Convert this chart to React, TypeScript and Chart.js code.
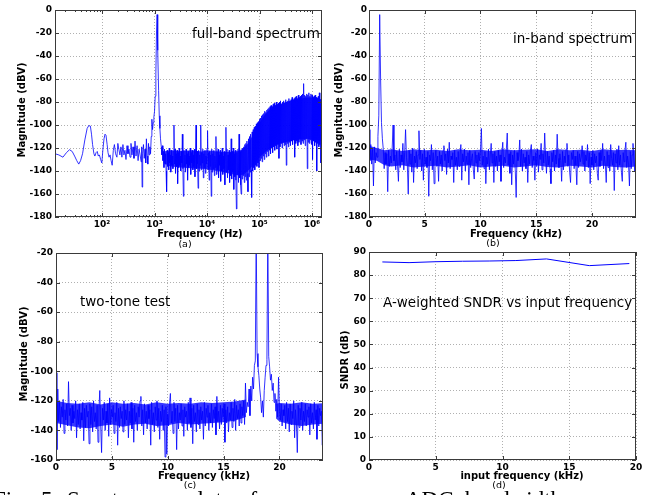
import React, { useEffect, useRef } from 'react';
import { Chart, registerables } from 'chart.js';

Chart.register(...registerables);

// ---------------- DATA ----------------
// (a) full-band spectrum: low-frequency part as (Hz, dBV) pairs
const FULL_LOW_HZ = [12.7, 15, 18, 21, 24, 27, 30, 33, 36, 39, 42.5, 47, 52, 56, 60, 63, 66, 70, 73, 77, 81, 85, 89, 94, 99, 104, 109, 114, 119, 125, 130, 136, 142, 149, 156, 164, 172, 181, 192, 200, 209, 219, 229, 239, 250, 261, 273, 286, 299, 312, 326, 341, 356, 372, 389, 406, 425, 444, 465, 486, 508, 531, 555, 570, 580, 595, 615, 637, 660, 680, 700, 722, 745, 767, 790, 815, 840, 865, 890, 917, 945, 972, 1000, 1030, 1060, 1090, 1120, 1150, 1195, 1230, 1265, 1300, 1345, 1380];
const FULL_LOW_DB = [-125, -126, -128, -124, -121.5, -123, -127, -131, -134, -131, -125, -113, -103, -100.5, -101, -108, -117, -125, -127, -124, -123, -127, -126, -130, -133, -121, -112, -108, -109, -117, -124, -128, -126, -131, -135, -122, -117, -125, -128, -116, -121, -126, -119, -128, -117, -126, -122, -130, -118, -125, -121, -128, -116, -126, -119, -129, -114, -127, -118, -131, -121, -126, -132, -119, -154, -125, -117, -129, -121, -133, -112, -127, -134, -116, -126, -119, -125, -110, -95, -104, -98, -93, -88, -75, -55, -20, -4, -35, -70, -92, -103, -112, -119, -126];
// (a) dense part: bins on a log grid starting at 10^3.15 Hz, 0.01 decade apart
const FULL_HIGH_LOG_START = 3.15;
const FULL_HIGH_LOG_STEP = 0.01;
const FULL_HIGH_DB = [
  -118, -131, -123, -137, -121, -134, -125, -140, -158, -122,
  -136, -124, -139, -120, -133, -126, -141, -122, -135, -127,
  -138, -123, -100, -134, -121, -142, -125, -136, -122, -151,
  -124, -137, -120, -135, -127, -140, -123, -133, -108, -138,
  -162, -122, -136, -126, -141, -121, -134, -125, -148, -123,
  -137, -127, -135, -120, -143, -124, -133, -122, -139, -126,
  -136, -121, -145, -125, -100, -138, -123, -134, -155, -122,
  -140, -126, -135, -100, -139, -124, -133, -121, -146, -125,
  -137, -122, -142, -127, -134, -120, -105, -139, -124, -148,
  -123, -136, -126, -162, -121, -141, -125, -138, -122, -144,
  -127, -137, -110, -143, -123, -139, -121, -146, -126, -135,
  -122, -149, -124, -140, -120, -143, -127, -138, -123, -152,
  -125, -102, -141, -121, -146, -126, -139, -122, -150, -124,
  -144, -112, -147, -123, -141, -120, -156, -125, -145, -122,
  -148, -173, -124, -143, -121, -150, -108, -146, -123, -152,
  -160, -122, -147, -120, -144, -119, -150, -117, -145, -116,
  -148, -114, -142, -158, -112, -145, -110, -141, -108, -139,
  -163, -106, -140, -104, -137, -102, -139, -101, -135, -99,
  -136, -98, -133, -97, -137, -95, -131, -94, -129, -92,
  -132, -91, -127, -90, -130, -88, -125, -89, -128, -87,
  -123, -86, -127, -85, -122, -84, -125, -83, -120, -84,
  -124, -82, -119, -81, -122, -83, -118, -80, -121, -82,
  -117, -81, -129, -80, -119, -79, -116, -82, -120, -80,
  -115, -79, -118, -81, -117, -78, -135, -80, -116, -79,
  -119, -77, -115, -79, -118, -78, -114, -76, -117, -78,
  -113, -77, -128, -76, -116, -75, -114, -77, -118, -74,
  -115, -76, -112, -75, -117, -74, -114, -73, -116, -64,
  -113, -74, -118, -75, -112, -73, -138, -74, -115, -72,
  -116, -75, -113, -73, -117, -74, -130, -76, -114, -75,
  -118, -74, -115, -76, -140, -77, -116, -75, -119, -72,
  -117, -78, -133, -77, -120,
];
// (a) dense core of the noise band (where the FFT bins overlap into a solid band)
const FULL_CORE_HZ = [1480, 2000, 3160, 5000, 7940, 10000, 15800, 25100, 31600, 39800, 50100, 63100, 79400, 100000, 126000, 158000, 200000, 251000, 316000, 398000, 501000, 631000, 794000, 1000000, 1260000, 1550000];
const FULL_CORE_HI = [-123, -122, -122.5, -122, -123, -122, -123, -123.5, -123, -122.5, -120, -115, -106, -98, -91, -86, -83, -81.5, -80, -79, -78, -77, -76, -76, -76, -78];
const FULL_CORE_LO = [-133, -136, -137, -137.5, -138, -138.5, -140, -142, -143, -144, -143, -139, -134, -128, -124, -120, -117, -116, -115, -114, -113, -112.5, -112, -112.5, -113, -114];

// (b) in-band spectrum: FFT bins 0.08 kHz apart from 0 kHz
const IN_BAND_STEP_KHZ = 0.08;
const IN_BAND_DB = [
  -104, -131, -117, -134, -121, -153, -119, -133, -124, -128, -110, -92, -4, -60, -98, -112, -121, -138, -124, -134,
  -125, -158, -122, -136, -127, -133, -120, -100, -131, -126, -139, -123, -135, -149, -121, -137, -126, -132, -116, -139,
  -124, -104, -128, -135, -160, -122, -134, -125, -141, -120, -150, -127, -133, -123, -138, -126, -105, -130, -122, -140,
  -125, -148, -121, -134, -128, -137, -123, -162, -126, -131, -117, -139, -124, -151, -129, -122, -136, -127, -149, -123,
  -134, -126, -140, -122, -118, -131, -125, -143, -121, -133, -115, -138, -127, -130, -124, -150, -122, -135, -128, -139,
  -123, -136, -126, -117, -148, -125, -132, -121, -140, -127, -134, -124, -152, -122, -137, -129, -125, -139, -147, -123,
  -133, -126, -141, -124, -131, -122, -103, -135, -127, -138, -123, -151, -128, -134, -121, -139, -126, -116, -133, -125,
  -150, -123, -136, -127, -140, -122, -132, -126, -149, -124, -115, -137, -128, -133, -121, -107, -135, -125, -142, -123,
  -152, -126, -134, -122, -139, -163, -124, -131, -127, -113, -136, -121, -140, -125, -133, -128, -138, -123, -150, -126,
  -134, -122, -117, -137, -127, -131, -148, -124, -136, -121, -141, -126, -130, -116, -139, -125, -133, -107, -128, -142,
  -123, -135, -127, -138, -151, -124, -132, -122, -140, -126, -134, -108, -129, -137, -125, -131, -149, -123, -139, -127,
  -133, -121, -116, -136, -126, -141, -150, -124, -130, -122, -138, -127, -135, -152, -123, -137, -125, -132, -128, -118,
  -134, -123, -140, -126, -131, -117, -137, -124, -151, -128, -135, -122, -139, -125, -133, -127, -142, -148, -124, -136,
  -122, -131, -116, -138, -127, -134, -150, -123, -137, -126, -140, -117, -129, -135, -124, -157, -125, -133, -121, -139,
  -118, -135, -126, -141, -149, -124, -132, -122, -115, -137, -127, -134, -153, -123, -138, -126, -116, -131, -140, -124,
  -133,
];
const IN_BAND_CORE_KHZ = [0, 0.7, 1.4, 2, 3, 4, 5, 6, 7, 8, 9, 10, 11, 12, 13, 14, 15, 16, 17, 18, 19, 20, 21, 22, 23, 24];
const IN_BAND_CORE_HI = [-118, -120, -122, -121, -122.5, -121, -122, -121.5, -122.5, -121, -122, -121.5, -122.5, -121, -122, -121.5, -121, -122.5, -121, -122, -121.5, -122.5, -121, -122, -121.5, -122];
const IN_BAND_CORE_LO = [-130, -131, -135, -136, -135, -137, -136, -135.5, -137, -136, -135, -137, -136, -135.5, -137, -136, -135, -136.5, -137, -135.5, -136, -137, -135.5, -136.5, -137, -136];

// (c) two-tone test: FFT bins 0.08 kHz apart from 0 kHz
const TWO_TONE_STEP_KHZ = 0.08;
const TWO_TONE_DB = [
  -101, -153, -112, -134, -121, -138, -124, -131, -119, -142, -126, -133, -122, -137, -107, -130, -125, -140, -123, -135,
  -127, -132, -120, -145, -126, -136, -122, -139, -128, -133, -121, -147, -125, -138, -123, -131, -127, -149, -122, -136,
  -124, -141, -120, -134, -128, -139, -123, -148, -126, -113, -137, -155, -125, -133, -121, -140, -127, -135, -122, -144,
  -118, -136, -126, -131, -123, -142, -128, -134, -121, -150, -125, -138, -124, -132, -127, -141, -120, -136, -126, -133,
  -122, -145, -127, -135, -121, -139, -125, -148, -123, -134, -128, -140, -124, -131, -120, -117, -137, -126, -143, -122,
  -135, -127, -139, -123, -132, -126, -150, -121, -136, -128, -141, -124, -133, -120, -138, -125, -146, -127, -134, -123,
  -140, -126, -158, -124, -156, -129, -137, -122, -115, -135, -127, -142, -121, -134, -125, -153, -123, -139, -128, -133,
  -122, -137, -126, -144, -124, -131, -127, -140, -121, -135, -118, -138, -125, -149, -123, -134, -128, -141, -122, -136,
  -126, -139, -124, -133, -127, -146, -121, -137, -125, -131, -123, -140, -128, -135, -122, -138, -126, -132, -124, -143,
  -117, -134, -127, -139, -123, -136, -125, -131, -122, -148, -126, -135, -124, -141, -128, -133, -121, -138, -125, -134,
  -119, -140, -123, -132, -126, -137, -122, -135, -124, -130, -120, -136, -108, -128, -121, -124, -112, -130, -110, -120,
  -104, -112, -96, -93, -5, -88, -97, -103, -112, -118, -128, -120, -131, -113, -104, -96, -92, -5, -90, -97,
  -106, -102, -113, -108, -121, -115, -127, -119, -131, -104, -124, -133, -122, -137, -126, -130, -123, -139, -121, -134,
  -125, -141, -122, -136, -127, -132, -120, -145, -126, -135, -155, -123, -138, -125, -133, -121, -140, -127, -134, -122,
  -137, -126, -131, -124, -143, -122, -135, -128, -139, -121, -133, -126, -146, -123, -137, -125, -130, -127, -150, -124,
  -136,
];
const TWO_TONE_CORE_L_KHZ = [0, 1, 2, 3, 4, 5, 6, 7, 8, 9, 10, 11, 12, 13, 14, 15, 16, 17];
const TWO_TONE_CORE_L_HI = [-120, -121.5, -122, -121, -122.5, -121, -122, -121.5, -122.5, -121, -122, -121.5, -122, -121, -121.5, -121, -120.5, -119];
const TWO_TONE_CORE_L_LO = [-135, -136.5, -138, -138.5, -137, -136, -137.5, -136, -135.5, -137, -136.5, -135, -136, -135.5, -135, -134.5, -133.5, -131];
const TWO_TONE_CORE_R_KHZ = [19.7, 20, 21, 22, 23, 24];
const TWO_TONE_CORE_R_HI = [-122, -121.5, -122, -121, -122, -121.5];
const TWO_TONE_CORE_R_LO = [-132, -134, -136, -137, -136, -135.5];

// (d) A-weighted SNDR vs input frequency
const SNDR_FREQ_KHZ = [1, 3, 5, 7, 9, 11, 13.3, 16.5, 19.5];
const SNDR_DB = [85.7, 85.4, 85.8, 86.0, 86.1, 86.3, 87.0, 84.1, 85.0];

// tick values / labels
const LOG_X_TICKS = [100, 1000, 10000, 100000, 1000000];
const LOG_X_LABELS = ['10\u00b2', '10\u00b3', '10\u2074', '10\u2075', '10\u2076'];
const KHZ_TICKS = [0, 5, 10, 15, 20];
const MAG_TICKS_A = [-180, -160, -140, -120, -100, -80, -60, -40, -20, 0];
const MAG_TICKS_C = [-160, -140, -120, -100, -80, -60, -40, -20];
const SNDR_TICKS = [0, 10, 20, 30, 40, 50, 60, 70, 80, 90];

// ---------------- STYLE ----------------
const FONT = "'DejaVu Sans', 'Liberation Sans', sans-serif";
const BLUE = '#0000ff';
const CORE_FILL = 'rgba(0, 0, 255, 0.78)';
const FRAME_COLOR = '#3a3a3a';
const GRID_COLOR = '#b0b0b0';

const framePlugin = {
  id: 'frame',
  afterDatasetsDraw(chart: any, _args: any, opts: any) {
    const { ctx, chartArea: a, scales } = chart;
    const xs = scales.x;
    const ys = scales.y;
    const al = (p: number) => Math.round(p) + 0.5;
    ctx.save();
    ctx.strokeStyle = FRAME_COLOR;
    ctx.lineWidth = 1;
    ctx.beginPath();
    xs.ticks.forEach((t: any) => {
      const px = al(xs.getPixelForValue(t.value));
      ctx.moveTo(px, a.bottom);
      ctx.lineTo(px, a.bottom - 4);
      ctx.moveTo(px, a.top);
      ctx.lineTo(px, a.top + 4);
    });
    (opts.minorX || []).forEach((v: number) => {
      const px = al(xs.getPixelForValue(v));
      if (px <= a.left || px >= a.right) return;
      ctx.moveTo(px, a.bottom);
      ctx.lineTo(px, a.bottom - 2);
      ctx.moveTo(px, a.top);
      ctx.lineTo(px, a.top + 2);
    });
    ys.ticks.forEach((t: any) => {
      const py = al(ys.getPixelForValue(t.value));
      ctx.moveTo(a.left, py);
      ctx.lineTo(a.left + 4, py);
      ctx.moveTo(a.right, py);
      ctx.lineTo(a.right - 4, py);
    });
    ctx.stroke();
    ctx.strokeRect(a.left + 0.5, a.top + 0.5, a.right - a.left - 1, a.bottom - a.top - 1);
    ctx.restore();
  },
};

type Box = { left: number; top: number; width: number; height: number };
type Area = { left: number; top: number; right: number; bottom: number };
type Pt = { x: number; y: number };

interface PanelSpec {
  canvas: Box;
  area: Area;
  line: Pt[];
  lineWidth: number;
  cores: { hi: Pt[]; lo: Pt[] }[];
  xType: 'linear' | 'logarithmic';
  xMin: number;
  xMax: number;
  xTicks: number[];
  xLabels: string[];
  yMin: number;
  yMax: number;
  yTicks: number[];
  yGap: number;
  minorX?: number[];
}

function buildDatasets(spec: PanelSpec) {
  const ds: any[] = [
    { data: spec.line, borderColor: BLUE, borderWidth: spec.lineWidth, pointRadius: 0, fill: false, tension: 0 },
  ];
  spec.cores.forEach((core) => {
    ds.push({
      data: core.hi,
      borderColor: 'rgba(0,0,0,0)',
      borderWidth: 0.1,
      backgroundColor: CORE_FILL,
      pointRadius: 0,
      fill: '+1',
      tension: 0,
    });
    ds.push({
      data: core.lo,
      borderColor: 'rgba(0,0,0,0)',
      borderWidth: 0.1,
      pointRadius: 0,
      fill: false,
      tension: 0,
    });
  });
  return ds;
}

function ChartPanel({ spec }: { spec: PanelSpec }) {
  const ref = useRef<HTMLCanvasElement>(null);
  const c = spec.canvas;
  const a = spec.area;
  useEffect(() => {
    const tickFont = { family: FONT, size: 9, weight: 'bold' as const };
    const chart = new Chart(ref.current as HTMLCanvasElement, {
      type: 'line',
      data: { datasets: buildDatasets(spec) },
      options: {
        responsive: false,
        animation: false,
        devicePixelRatio: 1,
        layout: { padding: { left: 0, bottom: 0, top: a.top - c.top, right: c.left + c.width - a.right } },
        plugins: {
          legend: { display: false },
          tooltip: { enabled: false },
          frame: { minorX: spec.minorX || [] },
        } as any,
        scales: {
          x: {
            type: spec.xType,
            min: spec.xMin,
            max: spec.xMax,
            afterBuildTicks: (s: any) => {
              s.ticks = spec.xTicks.map((v) => ({ value: v }));
            },
            afterFit: (s: any) => {
              s.height = c.top + c.height - a.bottom;
            },
            ticks: {
              autoSkip: false,
              maxRotation: 0,
              padding: 2,
              color: '#000',
              font: tickFont,
              callback: (_v: any, i: number) => spec.xLabels[i],
            },
            grid: { color: GRID_COLOR, lineWidth: 1, drawTicks: false },
            border: { display: false, dash: [1, 2] },
          } as any,
          y: {
            type: 'linear',
            min: spec.yMin,
            max: spec.yMax,
            afterBuildTicks: (s: any) => {
              s.ticks = spec.yTicks.map((v) => ({ value: v }));
            },
            afterFit: (s: any) => {
              s.width = a.left - c.left;
            },
            ticks: {
              autoSkip: false,
              padding: spec.yGap,
              color: '#000',
              font: tickFont,
              callback: (v: any) => String(v),
            },
            grid: { color: GRID_COLOR, lineWidth: 1, drawTicks: false },
            border: { display: false, dash: [1, 2] },
          } as any,
        },
      },
      plugins: [framePlugin as any],
    });
    return () => chart.destroy();
  }, []);
  return (
    <canvas
      ref={ref}
      width={c.width}
      height={c.height}
      style={{ position: 'absolute', left: c.left, top: c.top, width: c.width, height: c.height }}
    />
  );
}

const minorLogTicks: number[] = [];
for (let d = 10; d <= 1000000; d *= 10) {
  for (let k = 2; k <= 9; k++) minorLogTicks.push(k * d);
}

const pairs = (xs: number[], ys: number[]): Pt[] => xs.map((x, i) => ({ x, y: ys[i] }));

const fullPoints = [
  ...pairs(FULL_LOW_HZ, FULL_LOW_DB),
  ...FULL_HIGH_DB.map((y, i) => ({ x: Math.pow(10, FULL_HIGH_LOG_START + i * FULL_HIGH_LOG_STEP), y })),
];
const inBandPoints = IN_BAND_DB.map((y, i) => ({ x: i * IN_BAND_STEP_KHZ, y }));
const twoTonePoints = TWO_TONE_DB.map((y, i) => ({ x: i * TWO_TONE_STEP_KHZ, y }));
const sndrPoints = pairs(SNDR_FREQ_KHZ, SNDR_DB);

const PANELS: PanelSpec[] = [
  {
    canvas: { left: 0, top: 0, width: 330, height: 240 },
    area: { left: 55, top: 10, right: 322, bottom: 217 },
    line: fullPoints,
    lineWidth: 0.8,
    cores: [{ hi: pairs(FULL_CORE_HZ, FULL_CORE_HI), lo: pairs(FULL_CORE_HZ, FULL_CORE_LO) }],
    xType: 'logarithmic',
    xMin: 12.7,
    xMax: 1.55e6,
    xTicks: LOG_X_TICKS,
    xLabels: LOG_X_LABELS,
    yMin: -180,
    yMax: 0,
    yTicks: MAG_TICKS_A,
    yGap: 3,
    minorX: minorLogTicks,
  },
  {
    canvas: { left: 327, top: 0, width: 330, height: 240 },
    area: { left: 369, top: 10, right: 636, bottom: 217 },
    line: inBandPoints,
    lineWidth: 0.8,
    cores: [{ hi: pairs(IN_BAND_CORE_KHZ, IN_BAND_CORE_HI), lo: pairs(IN_BAND_CORE_KHZ, IN_BAND_CORE_LO) }],
    xType: 'linear',
    xMin: 0,
    xMax: 23.95,
    xTicks: KHZ_TICKS,
    xLabels: KHZ_TICKS.map(String),
    yMin: -180,
    yMax: 0,
    yTicks: MAG_TICKS_A,
    yGap: 2,
  },
  {
    canvas: { left: 0, top: 243, width: 330, height: 252 },
    area: { left: 56, top: 253, right: 323, bottom: 460 },
    line: twoTonePoints,
    lineWidth: 0.8,
    cores: [
      { hi: pairs(TWO_TONE_CORE_L_KHZ, TWO_TONE_CORE_L_HI), lo: pairs(TWO_TONE_CORE_L_KHZ, TWO_TONE_CORE_L_LO) },
      { hi: pairs(TWO_TONE_CORE_R_KHZ, TWO_TONE_CORE_R_HI), lo: pairs(TWO_TONE_CORE_R_KHZ, TWO_TONE_CORE_R_LO) },
    ],
    xType: 'linear',
    xMin: 0,
    xMax: 23.9,
    xTicks: KHZ_TICKS,
    xLabels: KHZ_TICKS.map(String),
    yMin: -160,
    yMax: -20,
    yTicks: MAG_TICKS_C,
    yGap: 3,
  },
  {
    canvas: { left: 327, top: 242, width: 330, height: 253 },
    area: { left: 369, top: 252, right: 636, bottom: 460 },
    line: sndrPoints,
    lineWidth: 1,
    cores: [],
    xType: 'linear',
    xMin: 0,
    xMax: 20,
    xTicks: [0, 5, 10, 15, 20],
    xLabels: ['0', '5', '10', '15', '20'],
    yMin: 0,
    yMax: 90,
    yTicks: SNDR_TICKS,
    yGap: 3,
  },
];

type Label = { text: string; x: number; y: number; kind: 'ytitle' | 'xtitle' | 'sub' | 'note' };
const LABELS: Label[] = [
  { text: 'Magnitude (dBV)', x: 22, y: 110, kind: 'ytitle' },
  { text: 'Frequency (Hz)', x: 200, y: 233.5, kind: 'xtitle' },
  { text: '(a)', x: 185, y: 243.5, kind: 'sub' },
  { text: 'full-band spectrum', x: 192, y: 34, kind: 'note' },
  { text: 'Magnitude (dBV)', x: 339, y: 110, kind: 'ytitle' },
  { text: 'Frequency (kHz)', x: 516, y: 234, kind: 'xtitle' },
  { text: '(b)', x: 493, y: 243, kind: 'sub' },
  { text: 'in-band spectrum', x: 513, y: 39, kind: 'note' },
  { text: 'Magnitude (dBV)', x: 24, y: 354, kind: 'ytitle' },
  { text: 'Frequency (kHz)', x: 204, y: 476, kind: 'xtitle' },
  { text: '(c)', x: 190, y: 484.5, kind: 'sub' },
  { text: 'two-tone test', x: 80, y: 302, kind: 'note' },
  { text: 'SNDR (dB)', x: 345, y: 360, kind: 'ytitle' },
  { text: 'input frequency (kHz)', x: 522, y: 476, kind: 'xtitle' },
  { text: '(d)', x: 499, y: 484.5, kind: 'sub' },
  { text: 'A-weighted SNDR vs input frequency', x: 383, y: 303, kind: 'note' },
];

const CAPTION_WORDS = [
  { text: 'Fig.', x: -7 },
  { text: '5:', x: 41 },
  { text: 'Spectrum', x: 67 },
  { text: 'plots', x: 186 },
  { text: 'of', x: 238 },
  { text: 'our', x: 300 },
  { text: 'ADC', x: 405 },
  { text: 'bandwidth', x: 465 },
];

function TextLabel({ l }: { l: Label }) {
  const base: React.CSSProperties = {
    position: 'absolute',
    left: l.x,
    top: l.y,
    whiteSpace: 'nowrap',
    lineHeight: 1,
    fontFamily: FONT,
    color: '#000',
  };
  if (l.kind === 'ytitle') {
    return (
      <div style={{ ...base, fontSize: 10, fontWeight: 'bold', transform: 'translate(-50%, -50%) rotate(-90deg)' }}>
        {l.text}
      </div>
    );
  }
  if (l.kind === 'xtitle') {
    return <div style={{ ...base, fontSize: 10, fontWeight: 'bold', transform: 'translate(-50%, -50%)' }}>{l.text}</div>;
  }
  if (l.kind === 'sub') {
    return <div style={{ ...base, fontSize: 9.5, transform: 'translate(-50%, -50%)' }}>{l.text}</div>;
  }
  return <div style={{ ...base, fontSize: 13.5, transform: 'translate(0, -50%)' }}>{l.text}</div>;
}

export default function App() {
  return (
    <div
      style={{
        position: 'absolute',
        left: 0,
        top: 0,
        width: 657,
        height: 495,
        overflow: 'hidden',
        background: '#ffffff',
      }}
    >
      {PANELS.map((p, i) => (
        <ChartPanel key={i} spec={p} />
      ))}
      {LABELS.map((l, i) => (
        <TextLabel key={'l' + i} l={l} />
      ))}
      {CAPTION_WORDS.map((w, i) => (
        <div
          key={'c' + i}
          style={{
            position: 'absolute',
            left: w.x,
            top: 488,
            fontFamily: "'Liberation Serif', 'DejaVu Serif', serif",
            fontSize: 23,
            lineHeight: 1,
            whiteSpace: 'nowrap',
            color: '#000',
          }}
        >
          {w.text}
        </div>
      ))}
    </div>
  );
}
